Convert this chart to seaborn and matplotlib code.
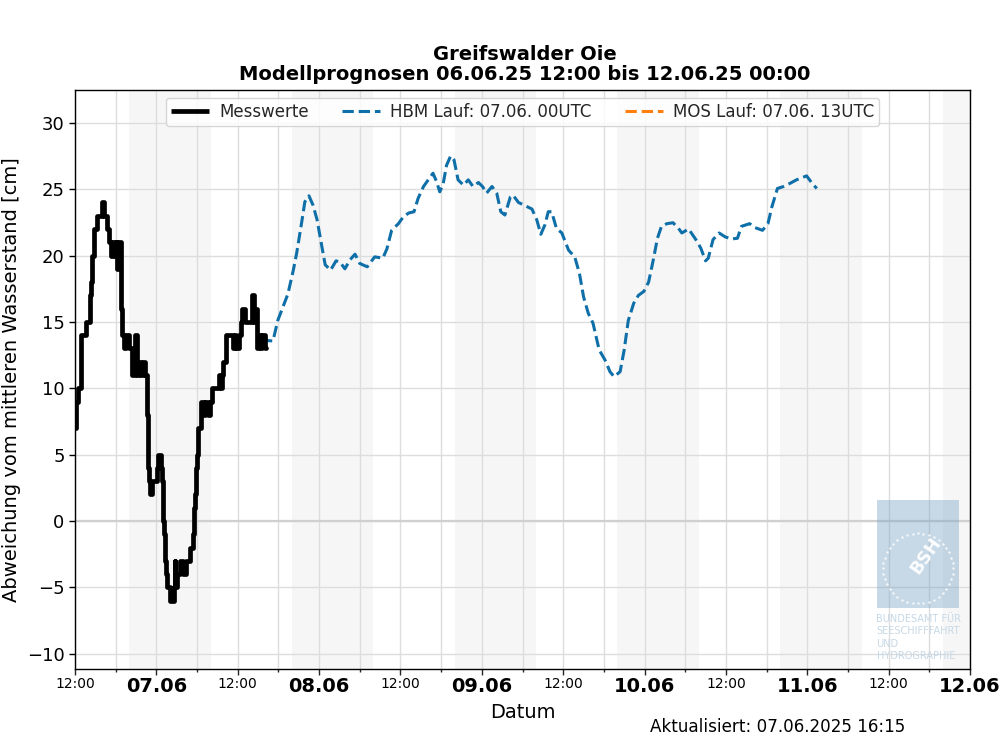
import numpy as np
import pandas as pd
import matplotlib
matplotlib.use("Agg")
import matplotlib.pyplot as plt
import matplotlib.dates as mdates
from matplotlib.lines import Line2D
from matplotlib.patches import Rectangle
import seaborn as sns

START = pd.Timestamp("2025-06-06 12:00")
END = pd.Timestamp("2025-06-12 00:00")

mess_h = [0, .15, .44, .88, 1.62, 2.2, 2.35, 2.5, 2.8, 3.25, 3.95, 4.3, 4.72, 5.0, 5.3, 5.6, 5.9, 6.1, 6.2, 6.4,
          6.74, 7.0, 7.3, 7.5, 7.9, 8.36, 8.8, 9.1, 9.4, 9.7, 10.0, 10.3, 10.6, 10.72, 10.84, 10.96, 11.06, 11.35, 12.1, 12.2,
          12.68, 12.83, 12.93, 13.03, 13.13, 13.23, 13.33, 13.43, 13.57, 14.0, 14.53, 14.68, 14.82, 15.1, 15.5, 15.9, 16.37, 16.9,
          17.33, 17.5, 17.6, 17.7, 17.8, 17.9, 18.0, 18.14, 18.6, 19.0, 19.2, 19.6, 19.9, 20.2, 21.3, 21.53, 21.65, 21.8,
          22.27, 23.3, 23.6, 23.8, 24.2, 24.5, 24.7, 25.07, 26.1, 26.4, 26.6, 26.85, 27.14, 27.43, 27.6, 27.95, 28.2]
mess_v = [7, 9, 10, 14, 15, 17, 18, 20, 22, 23, 24, 23, 22, 21, 20, 21, 20, 21, 19, 21,
          16, 14, 13, 14, 13, 11, 14, 11, 12, 11, 12, 11, 8, 6, 4, 3, 2, 3, 4, 5,
          4, 3, 1, 0, -1, -2, -3, -4, -5, -6, -5, -3, -5, -4, -3, -4, -3, -2,
          -1, 0, 1, 2, 3, 4, 5, 7, 9, 8, 9, 8, 9, 10, 11, 10, 11, 12,
          14, 13, 14, 13, 14, 15, 16, 15, 17, 15, 16, 13, 14, 13, 14, 13, 13]

hbm_h = [27.9, 28.3, 29.2, 29.9, 30.5, 31.4, 32.2, 32.7, 33.4, 33.9, 34.5, 35.1, 35.7, 36.4, 36.9, 37.7, 38.5, 39.1, 39.8,
         40.6, 41.3, 42.0, 43.1, 44.2, 45.4, 46.0, 46.7, 47.7, 48.4, 49.2, 50.0, 50.6, 51.4, 52.1, 52.8, 53.3, 53.8,
         54.3, 54.8, 55.4, 55.9, 56.5, 57.3, 58.0, 58.7, 59.5, 60.1, 60.7, 61.5, 62.2, 62.8, 63.4, 64.2, 64.6, 65.4,
         66.4, 67.4, 68.1, 68.7, 69.3, 69.8, 70.3, 71.0, 71.8, 72.8, 73.7, 74.4, 75.0, 75.7, 76.4, 77.3, 78.2, 78.9,
         79.5, 80.4, 81.0, 81.6, 82.4, 83.1, 83.9, 84.6, 85.3, 85.9, 86.5, 87.3, 88.2, 89.0, 89.5, 90.5, 91.7, 92.3,
         93.0, 93.4, 94.1, 95.0, 95.9, 96.9, 97.7, 98.3, 99.5, 100.3, 101.4, 102.2, 102.8, 103.6, 104.5, 105.5, 106.4,
         107.9, 108.7, 109.4]
hbm_v = [14.0, 13.6, 13.56, 15.1, 15.9, 17.1, 18.9, 20.2, 22.4, 24.05, 24.5, 23.8, 22.7, 20.7, 19.3, 18.9, 19.6, 19.5, 19.0,
         19.7, 20.1, 19.4, 19.15, 19.9, 19.8, 20.5, 21.9, 22.4, 22.9, 23.2, 23.3, 24.3, 25.2, 25.7, 26.2, 25.6, 24.8,
         25.4, 26.8, 27.5, 27.2, 25.7, 25.3, 25.7, 25.2, 25.5, 25.2, 24.7, 25.2, 24.7, 23.3, 23.05, 24.4, 24.55, 24.0,
         23.75, 23.5, 22.7, 21.6, 22.3, 23.3, 23.3, 22.05, 21.7, 20.4, 19.9, 18.65, 16.9, 15.65, 14.9, 12.9, 12.1, 11.25,
         10.87, 11.25, 12.9, 15.1, 16.4, 17.0, 17.3, 18.0, 19.7, 21.3, 22.2, 22.4, 22.47, 22.05, 21.7, 22.0, 21.1, 20.55,
         19.6, 19.8, 21.2, 21.7, 21.4, 21.25, 21.3, 22.2, 22.4, 22.1, 21.9, 22.4, 23.7, 25.05, 25.2, 25.45, 25.7,
         26.0, 25.45, 25.05]

night_start_h = [8, 32, 56, 80, 104, 128]
night_end_h = [20, 44, 68, 92, 116, 132]

def to_time(hours):
    return START + pd.to_timedelta(hours, unit="h")

BLUE = "#0f6fa8"
ORANGE = "#ff7f0e"

sns.set_theme(style="ticks", rc={"font.family": "DejaVu Sans"})
fig = plt.figure(figsize=(10, 7.5), dpi=100)
ax = fig.add_axes([0.075, 0.108, 0.895, 0.772])

for a, b in zip(night_start_h, night_end_h):
    ax.axvspan(to_time(a), to_time(b), color="#f6f6f6", lw=0, zorder=0)

sns.lineplot(x=to_time(mess_h), y=mess_v, ax=ax, color="black", lw=3.4, drawstyle="steps-post",
             estimator=None, errorbar=None, sort=False, zorder=5)
sns.lineplot(x=to_time(hbm_h), y=hbm_v, ax=ax, color=BLUE, lw=2.2, linestyle="--",
             estimator=None, errorbar=None, sort=False, zorder=4)

ax.axhline(0, color="#d0d0d0", lw=1.6, zorder=1)
ax.set_xlim(START, END)
ax.set_ylim(-11.15, 32.47)
ax.set_yticks([-10, -5, 0, 5, 10, 15, 20, 25, 30])
ax.tick_params(axis="y", labelsize=13, length=4, width=1, color="black", labelcolor="black")

ax.xaxis.set_major_locator(mdates.HourLocator(byhour=[0, 12]))
ax.xaxis.set_minor_locator(mdates.HourLocator(byhour=[6, 18]))
ax.xaxis.set_major_formatter(mdates.DateFormatter("%H:%M"))
ax.grid(True, which="both", color="#dddddd", lw=1.0, zorder=1)
ax.set_axisbelow(True)
ax.tick_params(axis="x", which="major", length=4, width=1, labelcolor="black", pad=1.5)
ax.tick_params(axis="x", which="minor", length=2.5, width=1)

fig.canvas.draw()
ticks = ax.get_xticks()
labels = []
for t in ticks:
    d = mdates.num2date(t)
    labels.append(d.strftime("%d.%m") if d.hour == 0 else d.strftime("%H:%M"))
ax.set_xticks(ticks)
ax.set_xticklabels(labels)
for lab, text in zip(ax.get_xticklabels(), labels):
    if ":" in text:
        lab.set_fontsize(10)
    else:
        lab.set_fontsize(14)
        lab.set_fontweight("bold")
ax.set_xlim(START, END)
for s in ax.spines.values():
    s.set_color("black")
    s.set_linewidth(1)
    s.set_visible(True)

ax.set_xlabel("Datum", fontsize=14, labelpad=5, color="black")
ax.set_ylabel("Abweichung vom mittleren Wasserstand [cm]", fontsize=14, labelpad=4.5, color="black")
ax.set_title("Greifswalder Oie\nModellprognosen 06.06.25 12:00 bis 12.06.25 00:00",
             fontsize=14, fontweight="bold", pad=7, color="black", x=0.5028, linespacing=1.1)
fig.text(0.65, 0.0185, "Aktualisiert: 07.06.2025 16:15", fontsize=12.1, color="black", va="bottom")

handles = [Line2D([], [], color="black", lw=3.4, solid_capstyle="butt"),
           Line2D([], [], color=BLUE, lw=2.2, ls="--"),
           Line2D([], [], color=ORANGE, lw=2.2, ls="--")]
leg = ax.legend(handles, ["Messwerte", "HBM Lauf: 07.06. 00UTC", "MOS Lauf: 07.06. 13UTC"], ncol=3,
                loc="upper center", bbox_to_anchor=(0.5, 0.986), fontsize=12, frameon=True,
                columnspacing=2.0, handlelength=2.3, handletextpad=0.6, borderpad=0.3, borderaxespad=0)
leg.set_zorder(10)

# BSH logo overlay
logo = fig.add_axes([0.877, 0.19, 0.082, 0.143], zorder=6)
logo.set_xlim(0, 82)
logo.set_ylim(0, 107)
logo.axis("off")
logo.patch.set_alpha(0)
logo.add_patch(Rectangle((0, 0), 82, 107, color="#7ba6c6", alpha=0.42, lw=0))
theta = np.deg2rad(np.arange(0, 360, 9))
logo.scatter(41 + 35 * np.cos(theta), 39 + 35 * np.sin(theta), s=3, color="white", alpha=0.85, lw=0)
logo.text(49, 52, "BSH", color="white", fontsize=12.5, fontweight="bold", rotation=55,
          ha="center", va="center", alpha=0.95)
for text, y in zip(["BUNDESAMT FÜR", "SEESCHIFFFAHRT", "UND", "HYDROGRAPHIE"], [0.1747, 0.1587, 0.1413, 0.1253]):
    fig.text(0.8765, y, text, fontsize=7, color="#c6d8e6", va="center", zorder=7)

fig.savefig("out.png", dpi=100)
